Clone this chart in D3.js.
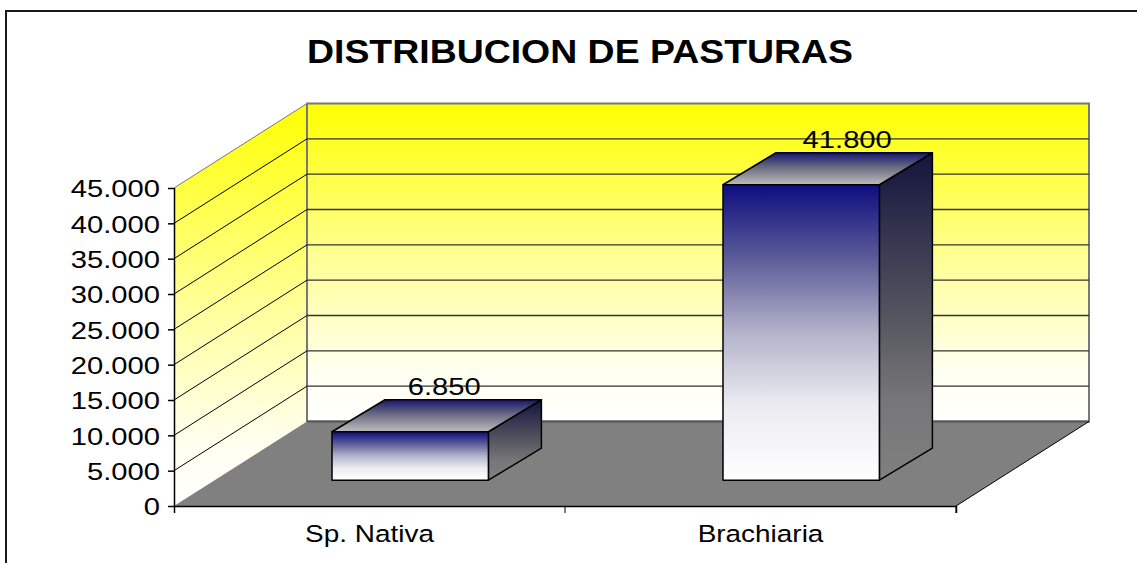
<!DOCTYPE html>
<html><head><meta charset="utf-8">
<script src="https://cdn.jsdelivr.net/npm/d3@7"></script>
<style>html,body{margin:0;padding:0;background:#fff;overflow:hidden}svg{display:block}text{font-family:"Liberation Sans",Arial,sans-serif;fill:#000}</style>
</head><body><svg id="c" width="1137" height="563"></svg>
<script>
const chartTitle = "DISTRIBUCION DE PASTURAS";
const categories = ["Sp. Nativa", "Brachiaria"];
const values = [6850, 41800];
const valueLabels = ["6.850", "41.800"];
const yTicks = [0, 5000, 10000, 15000, 20000, 25000, 30000, 35000, 40000, 45000];

const svg = d3.select("#c");
const fmt = d => d3.format(",")(d).replace(/,/g, ".");
const x = d3.scaleBand().domain(categories).range([174, 956]).paddingInner(0).paddingOuter(0);
const y = d3.scaleLinear().domain([0, 45000]).range([506, 188]);
const depth = {dx: 133, dy: -84.5};
const barFrac = 0.4, barFront = 0.306;
const barDepth = {dx: 53, dy: -32};
const labelShift = [34, 46];
const P = (px, py) => px + "," + py;
const stretch = (sel, k) => sel.each(function () {
  const n = this.getComputedTextLength();
  d3.select(this).attr("textLength", n * k).attr("lengthAdjust", "spacingAndGlyphs");
});

const defs = svg.append("defs");
function grad(id, stops) {
  const g = defs.append("linearGradient").attr("id", id).attr("x1", 0).attr("y1", 0).attr("x2", 0).attr("y2", 1);
  stops.forEach(s => g.append("stop").attr("offset", s[0]).attr("stop-color", s[1]));
}
grad("wall", [[0, "#ffff00"], [0.5, "#ffff99"], [0.85, "#fffff2"], [1, "#ffffff"]]);
grad("front", [[0, "#0d0d80"], [0.25, "#5c5c98"], [0.5, "#b3b3cb"], [0.75, "#ececf1"], [1, "#ffffff"]]);
grad("side", [[0, "#14143f"], [0.5, "#55555f"], [0.75, "#767678"], [1, "#808080"]]);
grad("top", [[0, "#16166e"], [0.45, "#6a6a80"], [1, "#bdbdbd"]]);

svg.append("line").attr("x1", 5).attr("x2", 1137).attr("y1", 11).attr("y2", 11).attr("stroke", "#1a1a1a").attr("stroke-width", 2);
svg.append("line").attr("x1", 6).attr("x2", 6).attr("y1", 10).attr("y2", 563).attr("stroke", "#1a1a1a").attr("stroke-width", 2);

svg.append("text").attr("x", 580).attr("y", 63).attr("text-anchor", "middle")
  .attr("font-size", 32.5).attr("font-weight", "bold").text(chartTitle)
  .call(s => s.attr("textLength", 546).attr("lengthAdjust", "spacingAndGlyphs"));

const [x0, x1] = x.range();
const yTop = y(45000), yBot = y(0);
svg.append("polygon").attr("fill", "url(#wall)")
  .attr("points", [P(x0, yBot), P(x0, yTop), P(x0 + depth.dx, yTop + depth.dy), P(x0 + depth.dx, yBot + depth.dy)].join(" "));
svg.append("rect").attr("x", x0 + depth.dx).attr("y", yTop + depth.dy).attr("width", x1 - x0)
  .attr("height", yBot - yTop).attr("fill", "url(#wall)").attr("stroke", "#777").attr("stroke-width", 2);
svg.append("polygon").attr("fill", "#808080")
  .attr("points", [P(x0, yBot), P(x1, yBot), P(x1 + depth.dx, yBot + depth.dy), P(x0 + depth.dx, yBot + depth.dy)].join(" "));
svg.append("line").attr("x1", x0 + depth.dx).attr("x2", x1 + depth.dx)
  .attr("y1", yBot + depth.dy).attr("y2", yBot + depth.dy).attr("stroke", "#555").attr("stroke-width", 2);
svg.append("line").attr("x1", x1).attr("x2", x1 + depth.dx)
  .attr("y1", yBot).attr("y2", yBot + depth.dy).attr("stroke", "#000");
const grid = yTicks.filter(t => t > 0);
svg.append("g").selectAll("line").data(grid).join("line")
  .attr("x1", x0).attr("y1", d => y(d)).attr("x2", x0 + depth.dx).attr("y2", d => y(d) + depth.dy)
  .attr("stroke", d => d === 45000 ? "#777" : "#000").attr("stroke-width", 1);
svg.append("g").selectAll("line").data(grid.filter(d => d < 45000)).join("line")
  .attr("x1", x0 + depth.dx).attr("x2", x1 + depth.dx)
  .attr("y1", d => y(d) + depth.dy).attr("y2", d => y(d) + depth.dy)
  .attr("stroke", "#333").attr("stroke-width", 1.4);

const yAxis = d3.axisLeft(y).tickValues(yTicks).tickFormat(fmt).tickSize(6).tickPadding(8);
const gy = svg.append("g").attr("transform", `translate(${x0},0)`).call(yAxis);
gy.selectAll("text").attr("font-size", 24.5).attr("font-family", '"Liberation Sans"').attr("fill", "#000").attr("dy", "0.36em").call(stretch, 1.19);
gy.selectAll("line,path").attr("stroke", "#000").attr("stroke-width", 1.5);
gy.select("path").attr("d", `M0.5,${y(45000)}V${yBot}`);
const xAxis = d3.axisBottom(x).tickSize(7).tickPadding(12).tickSizeOuter(7);
const gx = svg.append("g").attr("transform", `translate(0,${yBot})`).call(xAxis);
gx.selectAll(".tick line").remove();
gx.selectAll("text").attr("font-size", 24.5).attr("font-family", '"Liberation Sans"').attr("fill", "#000").call(stretch, 1.14);
gx.selectAll("path").attr("stroke", "#000").attr("stroke-width", 1.5);
svg.append("g").selectAll("line").data(categories).join("line")
  .attr("x1", d => x(d) + x.bandwidth()).attr("x2", d => x(d) + x.bandwidth())
  .attr("y1", yBot).attr("y2", yBot + 7).attr("stroke", "#000");

const bars = svg.append("g").selectAll("g").data(categories.map((c, i) => ({c, v: values[i], l: valueLabels[i], s: labelShift[i]}))).join("g");
bars.each(function (d) {
  const g = d3.select(this);
  const w = x.bandwidth() * barFrac;
  const left = x(d.c) + (x.bandwidth() - w) / 2 + depth.dx * barFront;
  const base = yBot + depth.dy * barFront;
  const h = yBot - y(d.v);
  const ox = barDepth.dx, oy = barDepth.dy;
  const st = sel => sel.attr("stroke", "#000").attr("stroke-width", 1.5).attr("stroke-linejoin", "round");
  g.append("polygon").attr("fill", "url(#side)").call(st)
    .attr("points", [P(left + w, base), P(left + w, base - h), P(left + w + ox, base - h + oy), P(left + w + ox, base + oy)].join(" "));
  g.append("polygon").attr("fill", "url(#top)").call(st)
    .attr("points", [P(left, base - h), P(left + w, base - h), P(left + w + ox, base - h + oy), P(left + ox, base - h + oy)].join(" "));
  g.append("rect").attr("fill", "url(#front)").call(st)
    .attr("x", left).attr("y", base - h).attr("width", w).attr("height", h);
  g.append("text").attr("x", left + w / 2 + d.s).attr("y", base - h + oy - 5)
    .attr("text-anchor", "middle").attr("font-size", 24.5).text(d.l).call(stretch, 1.19);
});
</script></body></html>
